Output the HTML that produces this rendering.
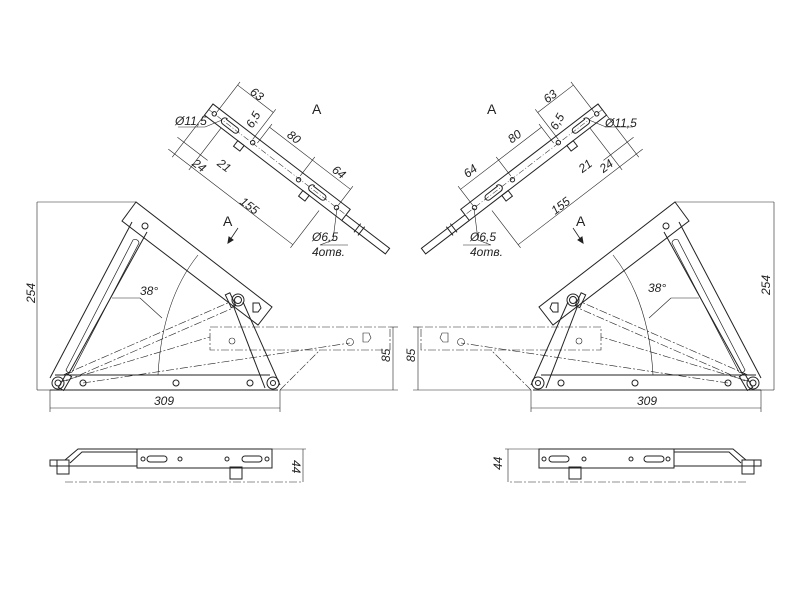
<!DOCTYPE html>
<html><head><style>
html,body{margin:0;padding:0;background:#fff;}
svg{display:block}
text{font-family:"Liberation Sans",sans-serif;font-style:italic;font-size:12px;fill:#222}
</style></head><body>
<svg width="800" height="600" viewBox="0 0 800 600" xmlns="http://www.w3.org/2000/svg">
<defs>
<g id="half" fill="none" stroke="#222" stroke-width="1">
  <!-- top view A -->
  <g transform="translate(213,104) rotate(37.5)">
    <rect x="0" y="0" width="173" height="14"/>
    <line x1="0" y1="7" x2="173" y2="7" stroke-width="0.5" stroke-dasharray="6,2,1,2"/>
    <polyline points="173,7 228,7 228,14 173,14"/>
    <line x1="190" y1="5" x2="190" y2="16"/><line x1="195" y1="5" x2="195" y2="16"/>
    <circle cx="7" cy="7" r="2.2"/><circle cx="55" cy="6.5" r="2.2"/><circle cx="114" cy="8" r="2.2"/><circle cx="161" cy="7" r="2.2"/>
    <path d="M20,4 h14 a3,3 0 0 1 0,6 h-14 a3.5,3.5 0 0 1 0,-7z"/>
    <path d="M130,4 h14 a3,3 0 0 1 0,6 h-14 a3.5,3.5 0 0 1 0,-7z"/>
    <rect x="42" y="14" width="8" height="7"/><rect x="124" y="14" width="8" height="7"/>
    <!-- dims -->
    <g stroke-width="0.6">
      <line x1="8" y1="-34" x2="8" y2="4"/><line x1="53" y1="-34" x2="53" y2="4"/>
      <line x1="8" y1="-30" x2="53" y2="-30"/>
      <line x1="59" y1="-20" x2="59" y2="4"/><line x1="161" y1="-20" x2="161" y2="4"/>
      <line x1="59" y1="-16" x2="161" y2="-16"/><line x1="113" y1="-20" x2="113" y2="4"/>
      <line x1="0" y1="14" x2="0" y2="67"/><line x1="21" y1="14" x2="21" y2="67"/><line x1="149" y1="20" x2="149" y2="67"/>
      <line x1="-8" y1="63" x2="149" y2="63"/>
      <line x1="-8" y1="48" x2="30" y2="48"/>
    </g>
  </g>
  <line x1="178" y1="127" x2="205" y2="127" stroke-width="0.6"/>
  <line x1="205" y1="127" x2="222" y2="120" stroke-width="0.6"/>
  <polyline points="337,208 333,240 320,245 348,245" stroke-width="0.6"/>
  <!-- A arrow -->
  <line x1="238" y1="228" x2="230" y2="240" stroke-width="0.8"/>
  <path d="M228,243 l1,-6 4,3z" fill="#222"/>
  <!-- main mechanism -->
  <polygon points="136,202 122,221 258,325 272,307"/>
  <circle cx="145" cy="226" r="3"/>
  <path d="M253,303 h6 l2,5 -3,4 h-5z"/>
  <!-- strut -->
  <line x1="50" y1="378" x2="132" y2="222"/>
  <line x1="68" y1="375" x2="147" y2="232"/>
  <path d="M66,370 L133,240 a4,4 0 0 1 6,3 L72,372 a4,4 0 0 1 -6,-2z" stroke-width="0.7"/>
  <!-- base -->
  <line x1="55" y1="375" x2="270" y2="375"/>
  <line x1="50" y1="390" x2="278" y2="390"/>
  <circle cx="83" cy="383" r="3"/><circle cx="176" cy="383" r="3"/><circle cx="250" cy="383" r="3"/>
  <circle cx="273" cy="383" r="6"/><circle cx="273" cy="383" r="2.5"/>
  <circle cx="58" cy="383" r="6"/><circle cx="58" cy="383" r="3"/>
  <rect x="62" y="374" width="6" height="16" transform="rotate(30 65 382)"/>
  <!-- link -->
  <line x1="233" y1="305" x2="265" y2="388"/>
  <line x1="243" y1="302" x2="280" y2="385"/>
  <circle cx="238" cy="300" r="6"/><circle cx="238" cy="300" r="3.5"/>
  <rect x="228" y="293" width="5" height="14" transform="rotate(-25 231 300)"/>
  <!-- dash-dot phantom -->
  <g stroke-width="0.6" stroke-dasharray="8,2,2,2">
    <line x1="63" y1="375" x2="230" y2="302"/>
    <line x1="66" y1="381" x2="233" y2="308"/>
    <line x1="60" y1="382" x2="210" y2="337"/>
    <line x1="83" y1="383" x2="350" y2="343"/>
    <line x1="280" y1="390" x2="320" y2="350"/>
    <rect x="210" y="327" width="180" height="23"/>
  </g>
  <circle cx="232" cy="341" r="3" stroke-width="0.6"/>
  <circle cx="350" cy="342" r="3.5" stroke-width="0.6"/>
  <path d="M363,333 h6 l2,5 -3,4 h-5z" stroke-width="0.6"/>
  <!-- dims -->
  <g stroke-width="0.6">
    <line x1="37" y1="202" x2="136" y2="202"/><line x1="37" y1="202" x2="37" y2="390"/><line x1="37" y1="390" x2="50" y2="390"/>
    <line x1="50" y1="390" x2="50" y2="412"/><line x1="280" y1="390" x2="280" y2="412"/>
    <line x1="50" y1="408" x2="280" y2="408"/>
    <line x1="390" y1="327" x2="398" y2="327"/><line x1="280" y1="390" x2="398" y2="390"/>
    <line x1="393" y1="327" x2="393" y2="390"/>
    <path d="M158,375 Q162,300 198,255"/>
    <line x1="140" y1="298" x2="112" y2="298"/><line x1="140" y1="298" x2="162" y2="318"/>
  </g>
  <!-- bottom view -->
  <rect x="137" y="449" width="135" height="19"/>
  <polyline points="137,449 78,449 65,460 50,460 50,466 137,466"/>
  <polyline points="137,452 82,452 70,463"/>
  <rect x="57" y="460" width="12" height="14"/>
  <rect x="230" y="467" width="12" height="12"/>
  <path d="M150,456 h14 a3,3 0 0 1 0,6 h-14 a3,3 0 0 1 0,-6z"/>
  <path d="M245,456 h14 a3,3 0 0 1 0,6 h-14 a3,3 0 0 1 0,-6z"/>
  <circle cx="143" cy="459" r="2"/><circle cx="180" cy="459" r="2"/><circle cx="227" cy="459" r="2"/><circle cx="267" cy="459" r="2"/>
  <line x1="65" y1="482" x2="303" y2="482" stroke-width="0.6" stroke-dasharray="8,2,2,2"/>
  <g stroke-width="0.6"><line x1="272" y1="449" x2="306" y2="449"/><line x1="303" y1="449" x2="303" y2="482"/></g>
</g>
</defs>
<use href="#half"/>
<use href="#half" transform="translate(811,0) scale(-1,1)"/>
<!-- left texts -->
<text x="250" y="99" transform="rotate(37 258 95)">63</text>
<text x="245" y="124" transform="rotate(-60 253 120)">6,5</text>
<text x="175" y="125">Ø11,5</text>
<text x="287" y="142" transform="rotate(37 295 138)">80</text>
<text x="332" y="177" transform="rotate(37 340 173)">64</text>
<text x="240" y="210" transform="rotate(37 250 205)">155</text>
<text x="193" y="170" transform="rotate(37 200 165)">24</text>
<text x="218" y="170" transform="rotate(37 225 165)">21</text>
<text x="312" y="241">Ø6,5</text>
<text x="312" y="256">4отв.</text>
<text x="312" y="114" style="font-style:normal;font-size:14px">A</text>
<text x="223" y="226" style="font-style:normal;font-size:14px">A</text>
<text x="24" y="302" transform="rotate(-90 30 297)">254</text>
<text x="140" y="295">38°</text>
<text x="154" y="405">309</text>
<text x="380" y="362" transform="rotate(-90 385 357)">85</text>
<text x="292" y="470" transform="rotate(90 297 465)">44</text>
<!-- right texts -->
<text x="543" y="99" transform="rotate(-37 552 95)">63</text>
<text x="549" y="126" transform="rotate(-60 557 122)">6,5</text>
<text x="605" y="127">Ø11,5</text>
<text x="507" y="140" transform="rotate(-37 515 135)">80</text>
<text x="463" y="175" transform="rotate(-37 470 170)">64</text>
<text x="550" y="210" transform="rotate(-37 560 205)">155</text>
<text x="599" y="170" transform="rotate(-37 606 165)">24</text>
<text x="578" y="170" transform="rotate(-37 585 165)">21</text>
<text x="470" y="241">Ø6,5</text>
<text x="470" y="256">4отв.</text>
<text x="487" y="114" style="font-style:normal;font-size:14px">A</text>
<text x="576" y="226" style="font-style:normal;font-size:14px">A</text>
<text x="759" y="294" transform="rotate(-90 765 289)">254</text>
<text x="648" y="292">38°</text>
<text x="637" y="405">309</text>
<text x="405" y="362" transform="rotate(-90 410 357)">85</text>
<text x="492" y="470" transform="rotate(-90 497 465)">44</text>
</svg>
</body></html>
